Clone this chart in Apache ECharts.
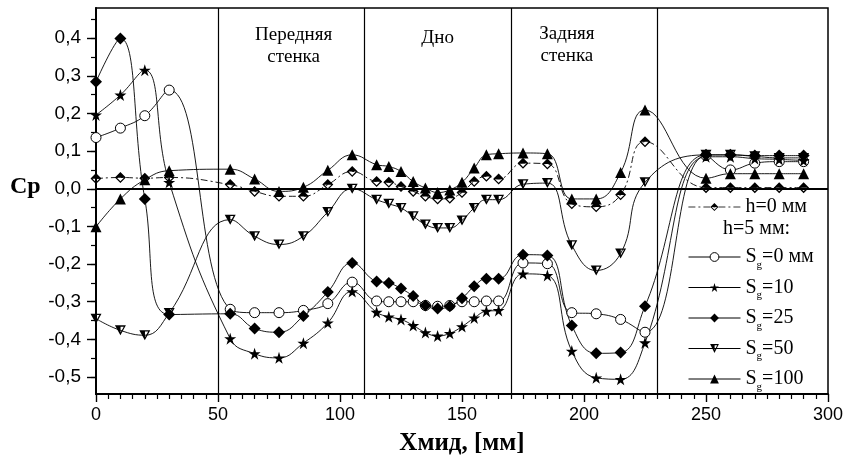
<!DOCTYPE html>
<html>
<head>
<meta charset="utf-8">
<script src="https://cdn.jsdelivr.net/npm/echarts@6/dist/echarts.min.js"></script>
<style>
  html, body { margin: 0; padding: 0; background: #fff; }
  #chart { width: 845px; height: 456px; }
</style>
</head>
<body>
<div id="chart"></div>
<script>
// x positions of the pressure taps, mm
const xs = [0, 10, 20, 30,
  55, 65, 75, 85, 95, 105,
  115, 120, 125, 130, 135, 140, 145, 150, 155, 160, 165,
  175, 185, 195, 205, 215, 225,
  250, 260, 270, 280, 290];

// Cp values
const h0 = [0.027, 0.030, 0.028, 0.030,
  0.011, -0.007, -0.020, -0.020, 0.011, 0.046,
  0.019, 0.017, 0.006, -0.007, -0.020, -0.027, -0.025, -0.010, 0.019, 0.033, 0.026,
  0.068, 0.066, -0.040, -0.048, -0.016, 0.125,
  0.003, 0.003, 0.003, 0.003, 0.003];
const s0 = [0.136, 0.161, 0.194, 0.262,
  -0.320, -0.329, -0.329, -0.323, -0.305, -0.248,
  -0.298, -0.300, -0.300, -0.300, -0.310, -0.312, -0.310, -0.300, -0.300, -0.298, -0.298,
  -0.197, -0.199, -0.329, -0.332, -0.347, -0.381,
  0.088, 0.050, 0.068, 0.072, 0.072];
const s10 = [0.196, 0.249, 0.315, 0.017,
  -0.398, -0.438, -0.449, -0.410, -0.356, -0.273,
  -0.328, -0.340, -0.347, -0.363, -0.382, -0.391, -0.384, -0.366, -0.343, -0.325, -0.323,
  -0.226, -0.230, -0.431, -0.502, -0.506, -0.409,
  0.085, 0.085, 0.080, 0.078, 0.075];
const s25 = [0.284, 0.399, -0.027, -0.334,
  -0.332, -0.371, -0.381, -0.338, -0.274, -0.197,
  -0.246, -0.250, -0.265, -0.285, -0.310, -0.318, -0.312, -0.291, -0.259, -0.239, -0.239,
  -0.175, -0.177, -0.363, -0.437, -0.435, -0.312,
  0.090, 0.090, 0.088, 0.088, 0.088];
const s50 = [-0.345, -0.376, -0.389, -0.330,
  -0.082, -0.126, -0.148, -0.126, -0.062, 0.000,
  -0.029, -0.040, -0.051, -0.073, -0.095, -0.104, -0.104, -0.084, -0.051, -0.029, -0.029,
  0.012, 0.015, -0.150, -0.217, -0.172, 0.017,
  0.090, 0.090, 0.086, 0.082, 0.082];
const s100 = [-0.101, -0.027, 0.024, 0.048,
  0.052, 0.026, -0.007, 0.004, 0.049, 0.090,
  0.064, 0.059, 0.046, 0.019, 0.002, -0.010, -0.003, 0.017, 0.055, 0.090, 0.093,
  0.095, 0.093, -0.027, -0.027, 0.043, 0.209,
  0.028, 0.040, 0.040, 0.040, 0.040];

const yMajor = [-0.5, -0.4, -0.3, -0.2, -0.1, 0, 0.1, 0.2, 0.3, 0.4];
const yMinor = [-0.5, -0.45, -0.4, -0.35, -0.3, -0.25, -0.2, -0.15, -0.1, -0.05, 0,
  0.05, 0.1, 0.15, 0.2, 0.25, 0.3, 0.35, 0.4, 0.45];
const wallLines = [50, 110, 170, 230];
const regions = [
  { name: 'Передняя\nстенка', x: 81, y: 0.379 },
  { name: 'Дно', x: 140, y: 0.40 },
  { name: 'Задняя\nстенка', x: 193, y: 0.381 }
];

const serif = 'Liberation Serif';
const sans = 'Liberation Sans';

// marker shapes
const halfDiamond = 'path://M10,0L20,10L0,10Z M0,10L20,10L10,20Z M3.5,10.3L10,16.8L16.5,10.3Z';
const halfTriDown = 'path://M0,0L10,0L10,18Z M10,0L20,0L10,18Z M10.3,2.3L10.3,12.7L16.1,2.3Z';
const star = 'path://M10,0L12.25,6.91L19.51,6.91L13.63,11.18L15.88,18.09L10,13.82L4.12,18.09L6.37,11.18L0.49,6.91L7.75,6.91Z';

const pts = v => xs.map((x, i) => [x, v[i]]);

function mk(name, vals, symbol, size, itemStyle, lineType) {
  return {
    name: name,
    type: 'line',
    data: pts(vals),
    smooth: 0.45,
    symbol: symbol,
    symbolSize: size,
    showAllSymbol: true,
    itemStyle: itemStyle,
    lineStyle: { color: '#000', width: 0.9, type: lineType || 'solid' },
    emphasis: { disabled: true }
  };
}

const series = [
  mk('h=0 мм', h0, halfDiamond, 11, { color: '#000', borderWidth: 0 }, [7, 3, 2, 3]),
  mk('S=0 мм', s0, 'circle', 10, { color: '#fff', borderColor: '#000', borderWidth: 1 }),
  mk('S=10', s10, star, 12, { color: '#000', borderWidth: 0 }),
  mk('S=25', s25, 'diamond', 12, { color: '#000', borderWidth: 0 }),
  mk('S=50', s50, halfTriDown, [11, 10], { color: '#000', borderWidth: 0 }),
  mk('S=100', s100, 'triangle', 11, { color: '#000', borderWidth: 0 })
];

series[0].markLine = {
  silent: true,
  symbol: ['none', 'none'],
  label: { show: false },
  animation: false,
  lineStyle: { color: '#000', type: 'solid', width: 1.2 },
  data: [{ yAxis: 0, lineStyle: { width: 2 } }].concat(wallLines.map(v => ({ xAxis: v })))
};
series[0].markPoint = {
  silent: true,
  symbol: 'circle',
  symbolSize: 0,
  animation: false,
  label: {
    show: true, position: 'inside', formatter: '{b}',
    fontFamily: serif, fontSize: 19, lineHeight: 22, color: '#000'
  },
  data: regions.map(r => ({ name: r.name, coord: [r.x, r.y] }))
};

const legendText = {
  fontFamily: serif, fontSize: 20, color: '#000', lineHeight: 22,
  rich: {
    s: { fontFamily: serif, fontSize: 20, color: '#000' },
    g: { fontFamily: serif, fontSize: 11, color: '#000', padding: [16, 0, 0, 0] },
    t: { fontFamily: serif, fontSize: 20, color: '#000' }
  }
};
const legendItems = ['S=0 мм', 'S=10', 'S=25', 'S=50', 'S=100'].map(n => ({
  name: n,
  itemStyle: n === 'S=0 мм' ? { borderWidth: 1, borderColor: '#000' } : { borderWidth: 0 }
}));

const option = {
  animation: false,
  backgroundColor: '#fff',
  grid: {
    left: 96, right: 17, top: 8, bottom: 62, outerBoundsMode: 'none',
    show: true, borderColor: '#000', borderWidth: 1.5
  },
  xAxis: {
    type: 'value', min: 0, max: 300, interval: 50,
    axisLine: { onZero: false, lineStyle: { color: '#000', width: 2 } },
    axisTick: { length: 8, lineStyle: { color: '#000', width: 1.4 } },
    minorTick: { show: true, splitNumber: 10, length: 5, lineStyle: { color: '#000', width: 1.2 } },
    splitLine: { show: false },
    axisLabel: { fontFamily: sans, fontSize: 18, color: '#000', margin: 12 },
    name: 'Хмид, [мм]', nameLocation: 'middle', nameGap: 37,
    nameTextStyle: { fontFamily: serif, fontWeight: 'bold', fontSize: 25, color: '#000' }
  },
  yAxis: [{
    type: 'value', min: -0.545, max: 0.48,
    axisLine: { show: true, onZero: false, lineStyle: { color: '#000', width: 2 } },
    axisTick: { show: true, customValues: yMajor, length: 9, lineStyle: { color: '#000', width: 1.4 } },
    axisLabel: {
      customValues: yMajor, fontFamily: sans, fontSize: 19, color: '#000', margin: 15,
      formatter: v => v.toFixed(1).replace('.', ',')
    },
    splitLine: { show: false }
  }, {
    type: 'value', min: -0.545, max: 0.48, position: 'left',
    axisLine: { show: false },
    axisTick: { show: true, customValues: yMinor, length: 5, lineStyle: { color: '#000', width: 1.2 } },
    axisLabel: { show: false },
    splitLine: { show: false }
  }],
  legend: [{
    data: [{ name: 'h=0 мм', itemStyle: { borderWidth: 0 } }],
    left: 688, top: 196, padding: 0,
    itemWidth: 52, itemHeight: 10, itemGap: 6,
    lineStyle: { width: 0.8 },
    textStyle: legendText,
    selectedMode: false
  }, {
    data: legendItems,
    orient: 'vertical',
    left: 688, top: 246, padding: 0,
    itemWidth: 52, itemHeight: 11, itemGap: 6,
    lineStyle: { width: 1 },
    textStyle: legendText,
    formatter: n => '{s|S}{g|g}{t|' + n.slice(1) + '}',
    selectedMode: false
  }],
  graphic: [
    { type: 'rect', z: 3, shape: { x: 686, y: 196, width: 140, height: 196 }, style: { fill: '#fff' } },
    { type: 'text', z: 5, left: 723, top: 219, style: { text: 'h=5 мм:', font: '20px "Liberation Serif"', fill: '#000' } },
    { type: 'text', z: 5, left: 10, top: 175, style: { text: 'Cp', font: 'bold 24px "Liberation Serif"', fill: '#000' } }
  ],
  series: series
};

const chart = echarts.init(document.getElementById('chart'), null, { renderer: 'canvas' });
chart.setOption(option);
</script>
</body>
</html>
